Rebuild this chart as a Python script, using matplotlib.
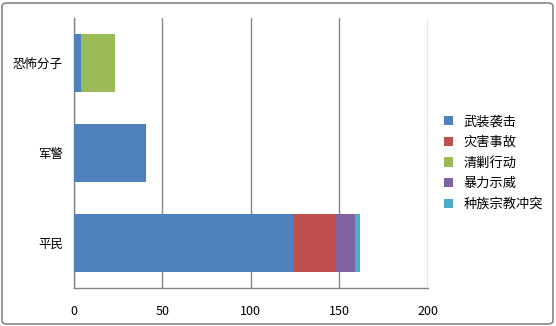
import matplotlib
matplotlib.use('Agg')
import matplotlib.pyplot as plt
from matplotlib.patches import FancyBboxPatch
import numpy as np

plt.rcParams['font.family'] = ['Noto Sans CJK SC', 'DejaVu Sans']

# data
categories = ['平民', '军警', '恐怖分子']
series_names = ['武装袭击', '灾害事故', '清剿行动', '暴力示威', '种族宗教冲突']
armed_attack = [124, 40, 4]
accident = [24, 0, 0]
clearance = [0, 0, 19]
protest = [11, 1, 0]
ethnic_conflict = [3, 0, 0]
colors = ['#4f81bd', '#c0504d', '#9bbb59', '#8064a2', '#4bacc6']
xticks = [0, 50, 100, 150, 200]

series = [armed_attack, accident, clearance, protest, ethnic_conflict]

fig = plt.figure(figsize=(5.56, 3.26), dpi=100)
ax = fig.add_axes([74 / 556, 1 - 288 / 326, (427.5 - 74) / 556, (288 - 18) / 326])

y = np.arange(len(categories))
left = np.zeros(len(categories))
handles = []
for name, vals, c in zip(series_names, series, colors):
    vals = np.array(vals, dtype=float)
    h = ax.barh(y, vals, left=left, height=0.64, color=c, label=name, zorder=3)
    handles.append(h)
    left += vals

ax.set_xlim(0, 200)
ax.set_ylim(-0.5, 2.5)
ax.set_xticks(xticks)
ax.set_yticks(y)
ax.set_yticklabels(categories)
ax.tick_params(axis='both', length=0, labelsize=9)
ax.tick_params(axis='x', pad=12)
ax.tick_params(axis='y', pad=8)
ax.grid(axis='x', color='#868686', linewidth=1, zorder=0)
for s in ['top', 'right']:
    ax.spines[s].set_visible(False)
for s in ['left', 'bottom']:
    ax.spines[s].set_color('#868686')
    ax.spines[s].set_linewidth(1)

fig.legend(handles=handles, loc='center left', bbox_to_anchor=(432 / 556, 1 - 163 / 326),
           frameon=False, fontsize=9.5, handlelength=0.7, handleheight=0.7,
           handletextpad=0.8, labelspacing=0.58)

border = FancyBboxPatch((2 / 556, 2 / 326), 551 / 556, 321 / 326,
                        boxstyle='round,pad=0,rounding_size=0.01',
                        transform=fig.transFigure, fill=False,
                        edgecolor='#868686', linewidth=1.2)
fig.patches.append(border)

fig.savefig('out.png', dpi=100)
